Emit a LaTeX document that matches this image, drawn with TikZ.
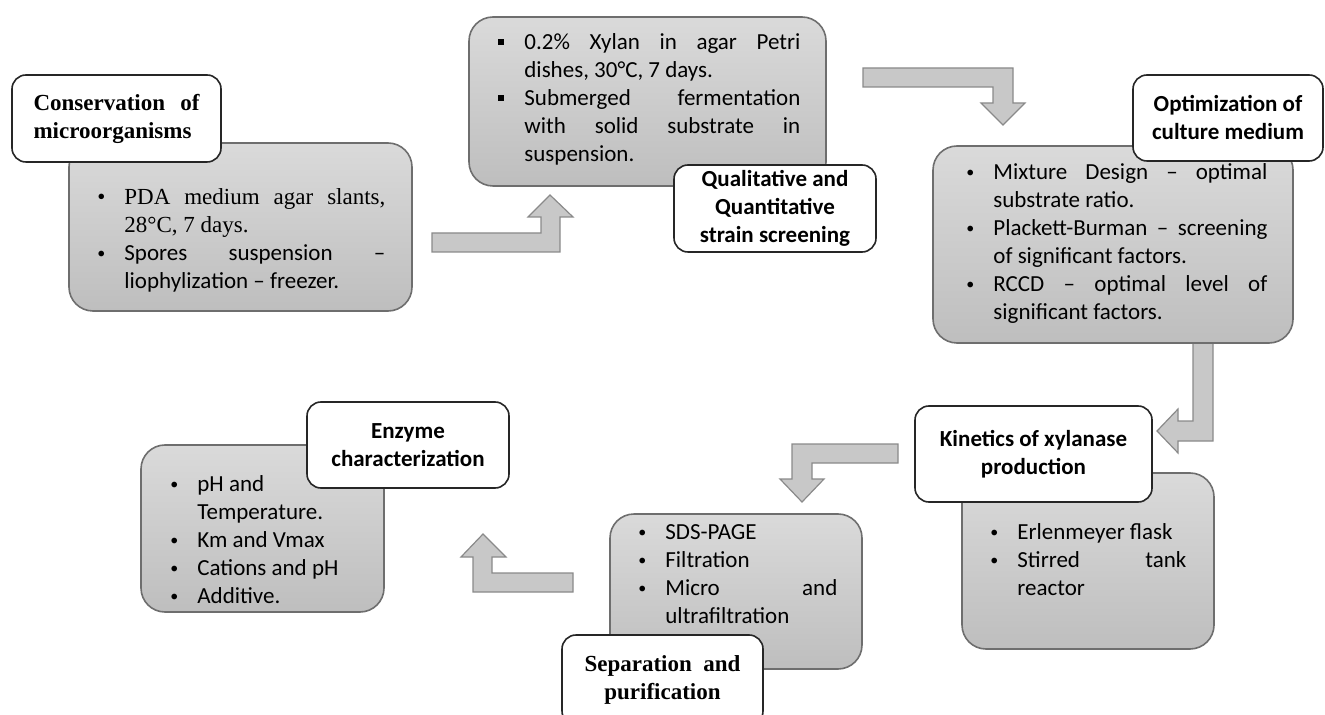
\documentclass[tikz,border=0pt]{standalone}
\usepackage{fontspec}
\setmainfont{Carlito}
\newfontfamily\timesfont{Liberation Serif}
\usetikzlibrary{fit}
\definecolor{boxtop}{RGB}{218,218,218}
\definecolor{boxbottom}{RGB}{190,190,190}
\definecolor{boxline}{RGB}{110,110,110}
\definecolor{arrowfill}{RGB}{200,200,200}
\definecolor{arrowline}{RGB}{138,138,138}

\newcommand{\bul}{\makebox[13.5pt][l]{\raisebox{1pt}{\fontsize{8}{8}\selectfont\textbullet}}}
\newcommand{\tbul}{\makebox[13.5pt][l]{\textbullet}}
\newcommand{\sqbul}{\makebox[13pt][l]{\rule[2.2pt]{3pt}{3pt}}}
\newcommand{\bpad}[1]{\hspace*{#1}}

\begin{document}
\begin{tikzpicture}[x=0.5pt, y=-0.5pt,
  panel/.style={draw=boxline, line width=0.8pt, rounded corners=12pt,
    top color=boxtop, bottom color=boxbottom, inner sep=0pt},
  headbox/.style={draw=black!85, line width=0.8pt, rounded corners=7pt,
    fill=white, inner sep=0pt, align=center,
    font=\fontsize{11.5}{14}\selectfont\bfseries},
  itemtext/.style={anchor=north west, inner sep=0pt, align=left,
    font=\fontsize{11.5}{14}\selectfont},
  blockarrow/.style={fill=arrowfill, draw=arrowline, line width=0.6pt},
  ]
  \useasboundingbox (0,0) rectangle (1325,715);

  % Fleches
  \draw[blockarrow] (432,233) -- (541,233) -- (541,217) -- (528,217) -- (550,195)
    -- (573,217) -- (560,217) -- (560,252) -- (432,252) -- cycle;
  \draw[blockarrow] (863,68) -- (1013,68) -- (1013,103) -- (1025,103) -- (1003,125)
    -- (981,103) -- (993,103) -- (993,87) -- (863,87) -- cycle;
  \draw[blockarrow] (1193,340) -- (1213,340) -- (1213,441) -- (1178,441) -- (1178,453)
    -- (1157,431) -- (1178,409) -- (1178,421) -- (1193,421) -- cycle;
  \draw[blockarrow] (898,444) -- (792,444) -- (792,479) -- (780,479) -- (802,502)
    -- (824,479) -- (812,479) -- (812,463) -- (898,463) -- cycle;
  \draw[blockarrow] (573,573) -- (492,573) -- (492,557) -- (506,557) -- (483,534)
    -- (461,557) -- (473,557) -- (473,592) -- (573,592) -- cycle;

  % Etapes
  \node[panel, fit={(69,143)(412,311)}]   (cons)   {};
  \node[panel, fit={(469,17)(826,186)}]   (screen) {};
  \node[panel, fit={(933,146)(1293,343)}] (optim)  {};
  \node[panel, fit={(962,473)(1214,649)}] (kinet)  {};
  \node[panel, fit={(610,514)(862,669)}]  (separ)  {};
  \node[panel, fit={(141,445)(384,612)}]  (enzym)  {};

  % Contenu des etapes
  \node[itemtext] (consT) at (97,188) {%
    {\timesfont\tbul\makebox[130.5pt][s]{PDA medium agar slants,}}\\
    {\timesfont\bpad{13.5pt}28°C, 7 days.}\\
    \bul\makebox[130.5pt][s]{Spores suspension --}\\
    \bpad{13.5pt}liophylization -- freezer.};
  \node[itemtext] (screenT) at (498,33) {%
    \sqbul\makebox[138pt][s]{0.2\% Xylan in agar Petri}\\
    \bpad{13pt}dishes, 30°C, 7 days.\\
    \sqbul\makebox[138pt][s]{Submerged fermentation}\\
    \bpad{13pt}\makebox[138pt][s]{with solid substrate in}\\
    \bpad{13pt}suspension.};
  \node[itemtext] (optimT) at (966,163) {%
    \bul\makebox[137pt][s]{Mixture Design -- optimal}\\
    \bpad{13.5pt}substrate ratio.\\
    \bul\makebox[137pt][s]{Plackett-Burman -- screening}\\
    \bpad{13.5pt}of significant factors.\\
    \bul\makebox[137pt][s]{RCCD -- optimal level of}\\
    \bpad{13.5pt}significant factors.};
  \node[itemtext] (kinetT) at (990,523) {%
    \bul Erlenmeyer flask\\
    \bul\makebox[84.5pt][s]{Stirred tank}\\
    \bpad{13.5pt}reactor};
  \node[itemtext] (separT) at (638,524) {%
    \bul SDS-PAGE\\
    \bul Filtration\\
    \bul\makebox[86pt][s]{Micro and}\\
    \bpad{13.5pt}ultrafiltration};
  \node[itemtext] (enzymT) at (170,475) {%
    \bul pH and\\
    \bpad{13.5pt}Temperature.\\
    \bul Km and Vmax\\
    \bul Cations and pH\\
    \bul Additive.};

  % Titres
  \node[headbox, minimum width=104.5pt, minimum height=43.5pt, align=left,
    font=\fontsize{11.5}{14}\selectfont\timesfont\bfseries] (consH) at (116.5,118.5)
    {\makebox[83pt][s]{Conservation of}\\microorganisms};
  \node[headbox, minimum width=101pt, minimum height=43.5pt] (screenH) at (775,208.5)
    {Qualitative and\\Quantitative\\strain screening};
  \node[headbox, minimum width=95pt, minimum height=43pt] (optimH) at (1228,118)
    {Optimization of\\culture medium};
  \node[headbox, minimum width=118.5pt, minimum height=48pt] (kinetH) at (1033.5,454)
    {Kinetics of xylanase\\production};
  \node[headbox, minimum width=100.5pt, minimum height=45pt,
    font=\fontsize{11.5}{14}\selectfont\timesfont\bfseries] (separH) at (662.5,680)
    {Separation\ \ and\\purification};
  \node[headbox, minimum width=101pt, minimum height=43pt] (enzymH) at (408,445)
    {Enzyme\\characterization};
\end{tikzpicture}
\end{document}
